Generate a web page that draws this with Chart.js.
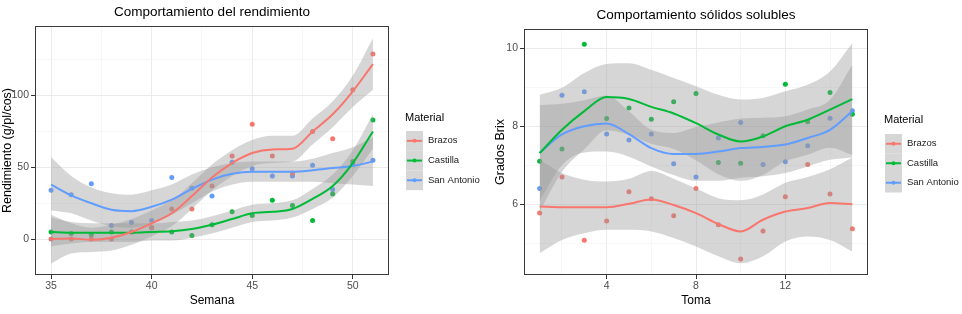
<!DOCTYPE html>
<html><head><meta charset="utf-8">
<script src="https://cdn.jsdelivr.net/npm/chart.js@4.4.1/dist/chart.umd.min.js"></script>
<style>
html,body{margin:0;padding:0;background:#fff;}
#wrap{position:relative;width:962px;height:314px;overflow:hidden;background:#fff;}
.box{position:absolute;top:0;width:481px;height:314px;}
</style></head><body>
<div id="wrap">
<div class="box" style="left:0"><canvas id="c1" width="481" height="314"></canvas></div>
<div class="box" style="left:481px"><canvas id="c2" width="481" height="314"></canvas></div>
</div>
<script>
// ---------- shared ----------
const materiales = ['Brazos', 'Castilla', 'San Antonio'];
const coloresMaterial = ['#F8766D', '#00BA38', '#619CFF'];

// ---------- Chart 1: Comportamiento del rendimiento ----------
const semanas = [35,36,37,38,39,40,41,42,43,44,45,46,47,48,49,50,51];
const brazosRend     = [0,0,0,0,5,8,21,21,37,58,80,58,46,75,70,104,129];
const castillaRend   = [5,4,3,5,5,8,5,2.5,10,19,16.5,27,23.5,13,31.5,54,83];
const sanAntonioRend = [34,31,38.5,9.5,11.5,13,43,35.5,30,53.5,49,44,44,51.5,34.5,52,55];
// smoothed curves and confidence bands
const brazosRendFit = [0,0.5,-0.5,1,5,11,18,30,43,53,60,62.5,63,75,87,103,122];
const brazosRendLo  = [-17,-10,-9,-8,-4,2,9,21,34,44,51,53,54,66,78,92,104];
const brazosRendHi  = [17,11,8,10,14,20,27,39,52,62,69,72,72,84,96,114,140];
const castillaRendFit = [5,4.5,4.5,4.5,4.5,5,5.4,7,10,14,18,19,21,28,37,53,75];
const castillaRendLo  = [-5,-3,-2,-2,-2,-1,-1,1,4,8,12,13,15,21,29,44,63];
const castillaRendHi  = [15,12,11,11,11,11,12,13,16,20,24,25,27,35,45,62,87];
const sanAntonioRendFit = [38,30.5,25,20.5,19.5,22.5,27.5,35,41.5,45.5,47,47,47,48,49.5,51,54];
const sanAntonioRendLo  = [20,18,13,9,8,11,17,25,33,38,40,40,40,40,39,38,37];
const sanAntonioRendHi  = [57,44,36,32,31,34,38,45,50,53,54,54,54,56,60,64,71];
const rendXMajor = [35,40,45,50];
const rendXMinor = [37.5,42.5,47.5];
const rendYMajor = [0,50,100];
const rendYMinor = [25,75,125];

// ---------- Chart 2: Comportamiento sólidos solubles ----------
const tomas = [1,2,3,4,5,6,7,8,9,10,11,12,13,14,15];
const brazosBrix     = [5.77,6.70,5.07,5.57,6.32,6.14,5.70,6.40,5.47,4.59,5.31,6.19,7.02,6.26,5.37];
const castillaBrix   = [7.10,7.42,10.11,8.20,8.47,8.18,8.63,8.84,7.07,7.05,7.76,9.08,8.12,8.87,8.31];
const sanAntonioBrix = [6.40,8.80,8.89,7.80,7.65,7.80,7.04,6.70,7.70,8.10,7.02,7.09,7.50,8.21,8.40];
const brazosBrixFit = [5.94,5.92,5.92,5.92,6.01,6.12,5.98,5.77,5.49,5.30,5.60,5.81,5.90,6.03,6.00];
const brazosBrixLo  = [4.74,5.08,5.25,5.34,5.34,5.30,5.13,4.91,4.66,4.48,4.66,5.04,5.17,5.08,4.78];
const brazosBrixHi  = [7.14,6.80,6.63,6.58,6.65,6.85,6.65,6.40,6.15,6.10,6.25,6.55,6.70,6.90,7.20];
const castillaBrixFit = [7.31,7.91,8.39,8.75,8.70,8.50,8.33,8.08,7.79,7.61,7.74,8.00,8.17,8.43,8.70];
const castillaBrixLo  = [5.81,6.83,7.41,7.90,7.78,7.55,7.42,7.13,6.77,6.60,6.75,7.10,7.27,7.45,7.26];
const castillaBrixHi  = [8.81,8.99,9.37,9.60,9.62,9.45,9.24,9.03,8.81,8.69,8.73,8.90,9.07,9.41,10.14];
const sanAntonioBrixFit = [7.32,7.79,8.00,8.07,7.80,7.44,7.29,7.29,7.35,7.44,7.47,7.53,7.70,7.91,8.39];
const sanAntonioBrixLo  = [6.09,7.00,7.33,7.35,7.22,6.97,6.75,6.60,6.60,6.68,6.72,6.80,6.97,7.14,7.20];
const sanAntonioBrixHi  = [8.55,8.58,8.67,8.79,8.38,7.91,7.83,7.98,8.10,8.20,8.22,8.26,8.43,8.68,9.58];
const brixXMajor = [4,8,12];
const brixXMinor = [2,6,10,14];
const brixYMajor = [6,8,10];
const brixYMinor = [5,7,9];

// ---------- helpers ----------
const FONT = '"Liberation Sans", Arial, sans-serif';
Chart.defaults.font.family = FONT;
const RIBBON = 'rgba(153,153,153,0.4)';

function buildDatasets(xs, pts, fits, los, his) {
  const ds = [];
  const toXY = arr => xs.map((x, j) => ({x: x, y: arr[j]}));
  materiales.forEach((name, i) => {
    ds.push({label: name + ' pts', data: toXY(pts[i]), showLine: false,
      pointRadius: 2.5, pointBackgroundColor: coloresMaterial[i], pointBorderWidth: 0,
      borderColor: 'rgba(0,0,0,0)', order: 30});
  });
  materiales.forEach((name, i) => {
    ds.push({label: name + ' lo', data: toXY(los[i]), borderColor: 'rgba(0,0,0,0)', borderWidth: 0,
      pointRadius: 0, fill: false, order: 20, cubicInterpolationMode: 'monotone'});
    ds.push({label: name + ' hi', data: toXY(his[i]), borderColor: 'rgba(0,0,0,0)', borderWidth: 0,
      pointRadius: 0, fill: '-1', backgroundColor: RIBBON, order: 20, cubicInterpolationMode: 'monotone'});
  });
  materiales.forEach((name, i) => {
    ds.push({label: name, data: toXY(fits[i]), borderColor: coloresMaterial[i], borderWidth: 2,
      pointRadius: 0, fill: false, order: 10, cubicInterpolationMode: 'monotone'});
  });
  return ds;
}

const frame = {
  id: 'frame',
  afterDraw(chart) {
    const a = chart.chartArea, ctx = chart.ctx;
    ctx.save();
    ctx.strokeStyle = '#3a3a3a'; ctx.lineWidth = 1;
    ctx.strokeRect(Math.round(a.left) + 0.5, Math.round(a.top) + 0.5,
      Math.round(a.right - a.left) - 1, Math.round(a.bottom - a.top) - 1);
    ctx.restore();
  }
};

const ggLegend = {
  id: 'ggLegend',
  afterDraw(chart, args, o) {
    const ctx = chart.ctx;
    ctx.save();
    ctx.textBaseline = 'middle'; ctx.textAlign = 'left';
    ctx.fillStyle = '#000'; ctx.font = '11px ' + FONT;
    ctx.fillText(o.title, o.x, o.titleY);
    materiales.forEach((lab, i) => {
      const top = o.keyTop + i * o.keyH, cy = top + o.keyH / 2;
      ctx.fillStyle = '#d6d6d6'; ctx.fillRect(o.x + 1, top, o.keyW, o.keyH);
      ctx.strokeStyle = coloresMaterial[i]; ctx.lineWidth = 2;
      ctx.beginPath(); ctx.moveTo(o.x + 2, cy); ctx.lineTo(o.x + o.keyW, cy); ctx.stroke();
      ctx.fillStyle = coloresMaterial[i];
      ctx.beginPath(); ctx.arc(o.x + 1 + o.keyW / 2, cy, 2, 0, Math.PI * 2); ctx.fill();
      ctx.fillStyle = '#1a1a1a'; ctx.font = '9.5px ' + FONT;
      ctx.fillText(lab, o.labelX, cy);
    });
    ctx.restore();
  }
};

function axis(o) {
  const major = o.major, minor = o.minor;
  const isMaj = c => c.tick && major.includes(c.tick.value);
  const cfg = {
    type: 'linear', min: o.min, max: o.max,
    afterBuildTicks: s => { s.ticks = major.concat(minor).sort((a, b) => a - b).map(v => ({value: v})); },
    ticks: {callback: v => major.includes(v) ? String(v) : '', color: '#4d4d4d',
      font: {size: 10.5}, padding: o.tickPad, autoSkip: false, maxRotation: 0},
    grid: {color: c => isMaj(c) ? '#ebebeb' : '#f3f3f3', lineWidth: c => isMaj(c) ? 1 : 0.7,
      tickColor: c => isMaj(c) ? '#333333' : 'rgba(0,0,0,0)', tickWidth: 1, tickLength: 4, drawTicks: true},
    border: {display: false},
    title: {display: true, text: o.title, color: '#000', font: {size: o.titleSize}, padding: o.titlePad}
  };
  if (o.width) cfg.afterFit = s => { s.width = o.width; };
  if (o.height) cfg.afterFit = s => { s.height = o.height; };
  return cfg;
}

function makeChart(id, L) {
  new Chart(document.getElementById(id), {
    type: 'line',
    data: {datasets: buildDatasets(L.xs, L.pts, L.fits, L.los, L.his)},
    options: {
      responsive: false, animation: false, events: [], devicePixelRatio: 1,
      layout: {padding: {left: 0, right: L.padRight, top: 0, bottom: 0}},
      plugins: {
        legend: {display: false}, tooltip: {enabled: false},
        title: {display: true, text: L.title, color: '#000', font: {size: 13.5, weight: 'normal'},
          padding: L.titlePad, fullSize: false},
        ggLegend: L.legend
      },
      scales: {
        x: axis({min: L.xMin, max: L.xMax, major: L.xMajor, minor: L.xMinor, tickPad: 1,
          title: L.xTitle, titleSize: 12, titlePad: {top: 0, bottom: 6}, height: 39}),
        y: axis({min: L.yMin, max: L.yMax, major: L.yMajor, minor: L.yMinor, tickPad: 2,
          title: L.yTitle, titleSize: 12.5, titlePad: {top: L.yTitleOffset, bottom: 0}, width: L.yWidth})
      }
    },
    plugins: [frame, ggLegend]
  });
}

makeChart('c1', {
  title: 'Comportamiento del rendimiento', titlePad: {top: 4, bottom: 5.8},
  xs: semanas,
  pts: [brazosRend, castillaRend, sanAntonioRend],
  fits: [brazosRendFit, castillaRendFit, sanAntonioRendFit],
  los: [brazosRendLo, castillaRendLo, sanAntonioRendLo],
  his: [brazosRendHi, castillaRendHi, sanAntonioRendHi],
  xMin: 34.2, xMax: 51.8, xMajor: rendXMajor, xMinor: rendXMinor, xTitle: 'Semana',
  yMin: -25, yMax: 148.5, yMajor: rendYMajor, yMinor: rendYMinor, yTitle: 'Rendimiento (g/pl/cos)',
  yWidth: 35, yTitleOffset: 0, padRight: 92,
  legend: {title: 'Material', x: 405, titleY: 118, keyTop: 131, keyH: 19.7, keyW: 17, labelX: 428}
});

makeChart('c2', {
  title: 'Comportamiento sólidos solubles', titlePad: {top: 6.9, bottom: 5.9},
  xs: tomas,
  pts: [brazosBrix, castillaBrix, sanAntonioBrix],
  fits: [brazosBrixFit, castillaBrixFit, sanAntonioBrixFit],
  los: [brazosBrixLo, castillaBrixLo, sanAntonioBrixLo],
  his: [brazosBrixHi, castillaBrixHi, sanAntonioBrixHi],
  xMin: 0.3, xMax: 15.7, xMajor: brixXMajor, xMinor: brixXMinor, xTitle: 'Toma',
  yMin: 4.18, yMax: 10.5, yMajor: brixYMajor, yMinor: brixYMinor, yTitle: 'Grados Brix',
  yWidth: 43, yTitleOffset: 12, padRight: 94,
  legend: {title: 'Material', x: 403, titleY: 120, keyTop: 134, keyH: 19.5, keyW: 17, labelX: 426}
});
</script>
</body></html>
